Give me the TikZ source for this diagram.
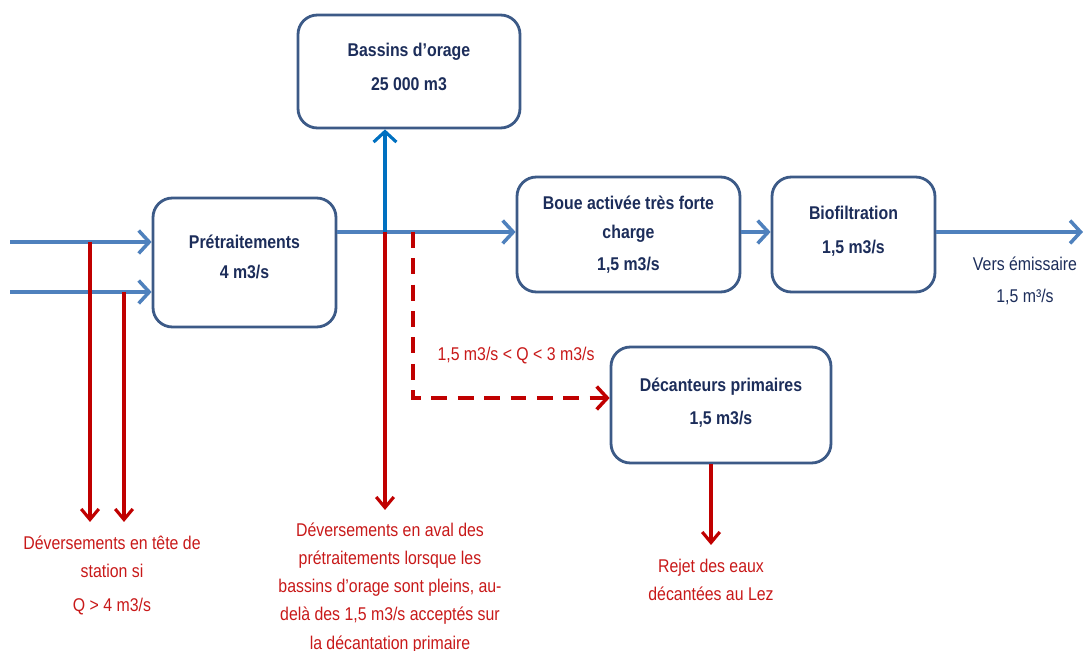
\documentclass[tikz,border=0pt]{standalone}
\usepackage{fontspec}
\setmainfont[FakeStretch=0.86]{Liberation Sans}
\usetikzlibrary{arrows.meta}
\definecolor{flowblue}{RGB}{79,129,189}
\definecolor{upblue}{RGB}{0,112,192}
\definecolor{boxline}{RGB}{60,90,135}
\definecolor{navy}{RGB}{28,45,90}
\definecolor{redline}{RGB}{192,0,0}
\definecolor{redtext}{RGB}{200,25,25}
\tikzset{
  box/.style={draw=boxline, line width=1.6pt, rounded corners=11pt, fill=white,
    align=center, font=\bfseries\fontsize{10.5}{12}\selectfont, text=navy, inner sep=0pt},
  blueflow/.style={draw=flowblue, line width=2pt, -{Straight Barb[length=6pt,width=13pt,line width=2pt]}},
  upflow/.style={draw=upblue, line width=1.8pt, -{Straight Barb[length=6pt,width=13pt,line width=1.8pt]}},
  redflow/.style={draw=redline, line width=1.8pt, -{Straight Barb[length=6pt,width=10pt,line width=1.8pt]}},
  reddash/.style={draw=redline, line width=2pt, dash pattern=on 9pt off 6pt, -{Straight Barb[length=6pt,width=13pt,line width=2pt]}},
  redlabel/.style={text=redtext, align=center, font=\fontsize{10.5}{16}\selectfont, inner sep=0pt},
  bluelabel/.style={text=navy, align=center, font=\fontsize{10.5}{18}\selectfont, inner sep=0pt}
}
\begin{document}
\begin{tikzpicture}[x=0.02cm,y=-0.02cm]
\useasboundingbox (0,0) rectangle (1083,651);
% boxes
\node[box, minimum width=4.44cm, minimum height=2.26cm] (bassins) at (409,71.5) {Bassins d’orage\\[7pt]25 000 m3\\[-6.5pt]};
\node[box, minimum width=3.66cm, minimum height=2.58cm] (pre) at (244.5,262.5) {Prétraitements\\[5pt]4 m3/s\\[-5pt]};
\node[box, minimum width=4.46cm, minimum height=2.30cm] (boue) at (628.5,234.5) {Boue activée très forte\\[5pt]charge\\[6pt]1,5 m3/s};
\node[box, minimum width=3.26cm, minimum height=2.30cm] (bio) at (853.5,234.5) {Biofiltration\\[7pt]1,5 m3/s\\[-6.5pt]};
\node[box, minimum width=4.40cm, minimum height=2.32cm] (dec) at (721,405) {Décanteurs primaires\\[7pt]1,5 m3/s\\[-7.5pt]};
% labels
\node[bluelabel] (vers) at (1025,281) {Vers émissaire\\1,5 m³/s};
\node[redlabel] (cond) at (516,356) {1,5 m3/s < Q < 3 m3/s};
\node[redlabel] (dev1) at (112,575.5) {Déversements en tête de\\station si\\[3pt]Q > 4 m3/s};
\node[redlabel] (dev2) at (390,588) {Déversements en aval des\\prétraitements lorsque les\\bassins d’orage sont pleins, au-\\delà des 1,5 m3/s acceptés sur\\la décantation primaire};
\node[redlabel] (rejet) at (711,579.5) {Rejet des eaux\\décantées au Lez};
% coordinates
\coordinate (in1) at (10,242);
\coordinate (in2) at (10,292);
\coordinate (r1) at (90,242);
\coordinate (r1e) at (90,522);
\coordinate (r2) at (124,292);
\coordinate (r2e) at (124,522);
\coordinate (j) at (385,232);
\coordinate (je) at (385,510);
\coordinate (d0) at (413,232);
\coordinate (d1) at (413,398);
\coordinate (out) at (1083,232);
\coordinate (rejEnd) at (711,545);
% input arrows
\draw[blueflow] (in1) -- (in1 -| pre.west);
\draw[blueflow] (in2) -- (in2 -| pre.west);
% red overflows at head
\draw[redflow] (r1) -- (r1e);
\draw[redflow] (r2) -- (r2e);
% main line
\draw[blueflow] (j -| pre.east) -- (j -| boue.west);
\draw[upflow] (j) -- (j |- bassins.south);
\draw[redflow] (j) -- (je);
\draw[reddash] (d0) -- (d1) -- (d1 -| dec.west);
\draw[blueflow] (boue.east |- j) -- (bio.west |- j);
\draw[blueflow] (bio.east |- j) -- (out);
\draw[redflow] (rejEnd |- dec.south) -- (rejEnd);
\end{tikzpicture}
\end{document}
